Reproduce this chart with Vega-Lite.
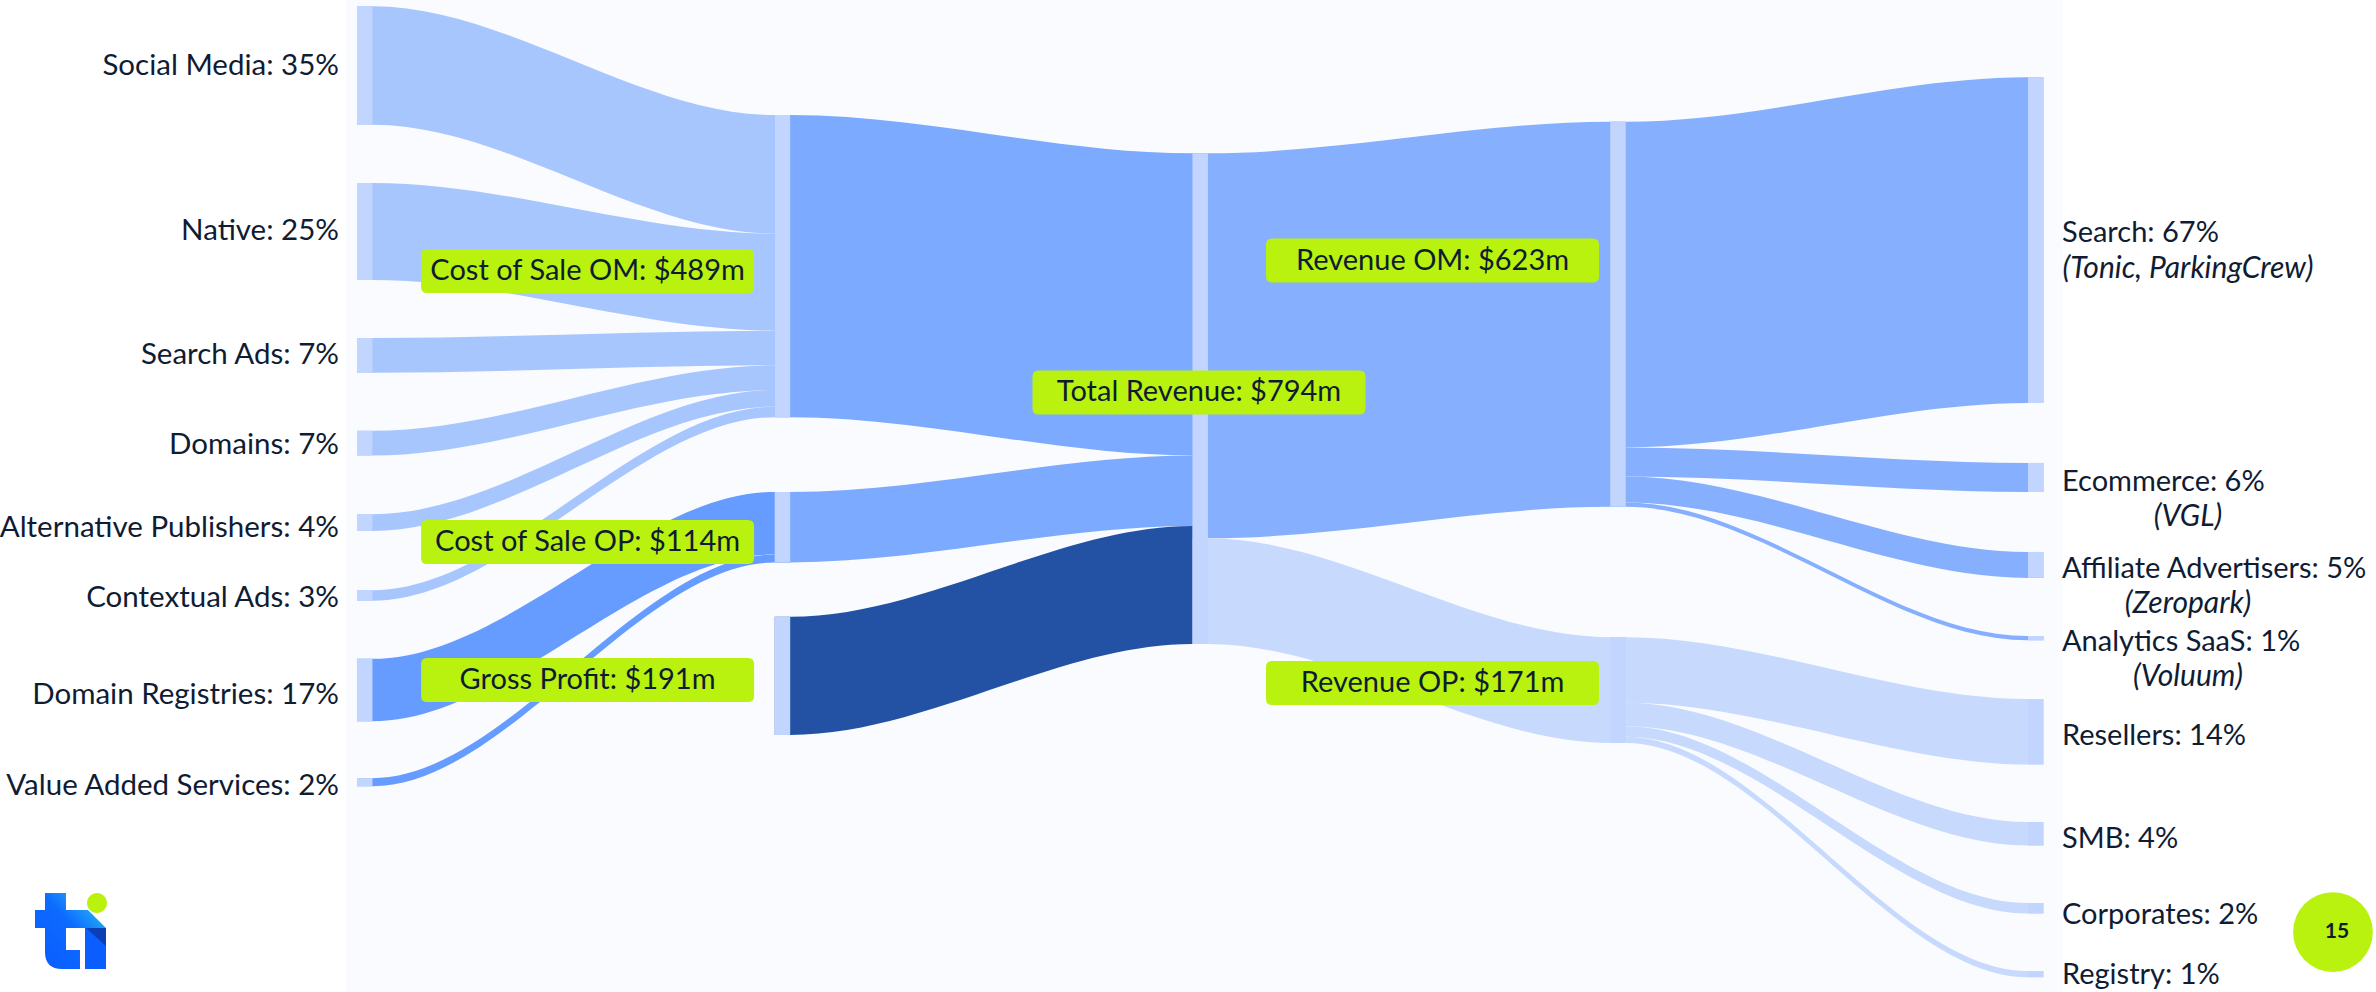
{
  "$schema": "https://vega.github.io/schema/vega-lite/v6.json",
  "width": 1717,
  "height": 992,
  "autosize": {"type": "none"},
  "padding": {"left": 346, "right": 313, "top": 0, "bottom": 0},
  "background": "#ffffff",
  "config": {"view": {"stroke": null, "fill": "#f9fbfe"}},
  "datasets": {
    "links": [
      {"link": "Social Media", "flow": "om_src", "x": 0, "top": 10, "bottom": 202},
      {"link": "Social Media", "flow": "om_src", "x": 0.037, "top": 10, "bottom": 202},
      {"link": "Social Media", "flow": "om_src", "x": 1, "top": 186, "bottom": 378},
      {"link": "Social Media", "flow": "om_src", "x": 1.037, "top": 186, "bottom": 378},
      {"link": "Native", "flow": "om_src", "x": 0, "top": 296, "bottom": 453},
      {"link": "Native", "flow": "om_src", "x": 0.037, "top": 296, "bottom": 453},
      {"link": "Native", "flow": "om_src", "x": 1, "top": 378, "bottom": 535},
      {"link": "Native", "flow": "om_src", "x": 1.037, "top": 378, "bottom": 535},
      {"link": "Search Ads", "flow": "om_src", "x": 0, "top": 547, "bottom": 603},
      {"link": "Search Ads", "flow": "om_src", "x": 0.037, "top": 547, "bottom": 603},
      {"link": "Search Ads", "flow": "om_src", "x": 1, "top": 535, "bottom": 591},
      {"link": "Search Ads", "flow": "om_src", "x": 1.037, "top": 535, "bottom": 591},
      {"link": "Domains", "flow": "om_src", "x": 0, "top": 697, "bottom": 737},
      {"link": "Domains", "flow": "om_src", "x": 0.037, "top": 697, "bottom": 737},
      {"link": "Domains", "flow": "om_src", "x": 1, "top": 591, "bottom": 631},
      {"link": "Domains", "flow": "om_src", "x": 1.037, "top": 591, "bottom": 631},
      {"link": "Alternative Publishers", "flow": "om_src", "x": 0, "top": 832, "bottom": 859},
      {"link": "Alternative Publishers", "flow": "om_src", "x": 0.037, "top": 832, "bottom": 859},
      {"link": "Alternative Publishers", "flow": "om_src", "x": 1, "top": 631, "bottom": 658},
      {"link": "Alternative Publishers", "flow": "om_src", "x": 1.037, "top": 631, "bottom": 658},
      {"link": "Contextual Ads", "flow": "om_src", "x": 0, "top": 955, "bottom": 972},
      {"link": "Contextual Ads", "flow": "om_src", "x": 0.037, "top": 955, "bottom": 972},
      {"link": "Contextual Ads", "flow": "om_src", "x": 1, "top": 658, "bottom": 675},
      {"link": "Contextual Ads", "flow": "om_src", "x": 1.037, "top": 658, "bottom": 675},
      {"link": "Domain Registries", "flow": "op_src", "x": 0, "top": 1066, "bottom": 1167},
      {"link": "Domain Registries", "flow": "op_src", "x": 0.037, "top": 1066, "bottom": 1167},
      {"link": "Domain Registries", "flow": "op_src", "x": 1, "top": 796, "bottom": 897},
      {"link": "Domain Registries", "flow": "op_src", "x": 1.037, "top": 796, "bottom": 897},
      {"link": "Value Added Services", "flow": "op_src", "x": 0, "top": 1259, "bottom": 1272},
      {"link": "Value Added Services", "flow": "op_src", "x": 0.037, "top": 1259, "bottom": 1272},
      {"link": "Value Added Services", "flow": "op_src", "x": 1, "top": 897, "bottom": 910},
      {"link": "Value Added Services", "flow": "op_src", "x": 1.037, "top": 897, "bottom": 910},
      {"link": "Cost of Sale OM", "flow": "cos", "x": 1, "top": 186, "bottom": 675},
      {"link": "Cost of Sale OM", "flow": "cos", "x": 1.037, "top": 186, "bottom": 675},
      {"link": "Cost of Sale OM", "flow": "cos", "x": 2, "top": 248, "bottom": 737},
      {"link": "Cost of Sale OM", "flow": "cos", "x": 2.037, "top": 248, "bottom": 737},
      {"link": "Cost of Sale OP", "flow": "cos", "x": 1, "top": 796, "bottom": 910},
      {"link": "Cost of Sale OP", "flow": "cos", "x": 1.037, "top": 796, "bottom": 910},
      {"link": "Cost of Sale OP", "flow": "cos", "x": 2, "top": 737, "bottom": 851},
      {"link": "Cost of Sale OP", "flow": "cos", "x": 2.037, "top": 737, "bottom": 851},
      {"link": "Gross Profit", "flow": "gp", "x": 1, "top": 998, "bottom": 1189},
      {"link": "Gross Profit", "flow": "gp", "x": 1.037, "top": 998, "bottom": 1189},
      {"link": "Gross Profit", "flow": "gp", "x": 2, "top": 851, "bottom": 1042},
      {"link": "Gross Profit", "flow": "gp", "x": 2.037, "top": 851, "bottom": 1042},
      {"link": "Revenue OM", "flow": "rev_om", "x": 2, "top": 248, "bottom": 871},
      {"link": "Revenue OM", "flow": "rev_om", "x": 2.037, "top": 248, "bottom": 871},
      {"link": "Revenue OM", "flow": "rev_om", "x": 3, "top": 197, "bottom": 820},
      {"link": "Revenue OM", "flow": "rev_om", "x": 3.037, "top": 197, "bottom": 820},
      {"link": "Revenue OP", "flow": "rev_op", "x": 2, "top": 871, "bottom": 1042},
      {"link": "Revenue OP", "flow": "rev_op", "x": 2.037, "top": 871, "bottom": 1042},
      {"link": "Revenue OP", "flow": "rev_op", "x": 3, "top": 1031, "bottom": 1202},
      {"link": "Revenue OP", "flow": "rev_op", "x": 3.037, "top": 1031, "bottom": 1202},
      {"link": "Search", "flow": "rev_om", "x": 3, "top": 197, "bottom": 724},
      {"link": "Search", "flow": "rev_om", "x": 3.037, "top": 197, "bottom": 724},
      {"link": "Search", "flow": "rev_om", "x": 4, "top": 125, "bottom": 652},
      {"link": "Search", "flow": "rev_om", "x": 4.037, "top": 125, "bottom": 652},
      {"link": "Ecommerce", "flow": "rev_om", "x": 3, "top": 724, "bottom": 771},
      {"link": "Ecommerce", "flow": "rev_om", "x": 3.037, "top": 724, "bottom": 771},
      {"link": "Ecommerce", "flow": "rev_om", "x": 4, "top": 749, "bottom": 796},
      {"link": "Ecommerce", "flow": "rev_om", "x": 4.037, "top": 749, "bottom": 796},
      {"link": "Affiliate Advertisers", "flow": "rev_om", "x": 3, "top": 771, "bottom": 813},
      {"link": "Affiliate Advertisers", "flow": "rev_om", "x": 3.037, "top": 771, "bottom": 813},
      {"link": "Affiliate Advertisers", "flow": "rev_om", "x": 4, "top": 893, "bottom": 935},
      {"link": "Affiliate Advertisers", "flow": "rev_om", "x": 4.037, "top": 893, "bottom": 935},
      {"link": "Analytics SaaS", "flow": "rev_om", "x": 3, "top": 813, "bottom": 820},
      {"link": "Analytics SaaS", "flow": "rev_om", "x": 3.037, "top": 813, "bottom": 820},
      {"link": "Analytics SaaS", "flow": "rev_om", "x": 4, "top": 1029, "bottom": 1036},
      {"link": "Analytics SaaS", "flow": "rev_om", "x": 4.037, "top": 1029, "bottom": 1036},
      {"link": "Resellers", "flow": "rev_op", "x": 3, "top": 1031, "bottom": 1137},
      {"link": "Resellers", "flow": "rev_op", "x": 3.037, "top": 1031, "bottom": 1137},
      {"link": "Resellers", "flow": "rev_op", "x": 4, "top": 1131, "bottom": 1237},
      {"link": "Resellers", "flow": "rev_op", "x": 4.037, "top": 1131, "bottom": 1237},
      {"link": "SMB", "flow": "rev_op", "x": 3, "top": 1137, "bottom": 1175},
      {"link": "SMB", "flow": "rev_op", "x": 3.037, "top": 1137, "bottom": 1175},
      {"link": "SMB", "flow": "rev_op", "x": 4, "top": 1330, "bottom": 1368},
      {"link": "SMB", "flow": "rev_op", "x": 4.037, "top": 1330, "bottom": 1368},
      {"link": "Corporates", "flow": "rev_op", "x": 3, "top": 1175, "bottom": 1192},
      {"link": "Corporates", "flow": "rev_op", "x": 3.037, "top": 1175, "bottom": 1192},
      {"link": "Corporates", "flow": "rev_op", "x": 4, "top": 1461, "bottom": 1478},
      {"link": "Corporates", "flow": "rev_op", "x": 4.037, "top": 1461, "bottom": 1478},
      {"link": "Registry", "flow": "rev_op", "x": 3, "top": 1192, "bottom": 1202},
      {"link": "Registry", "flow": "rev_op", "x": 3.037, "top": 1192, "bottom": 1202},
      {"link": "Registry", "flow": "rev_op", "x": 4, "top": 1571, "bottom": 1581},
      {"link": "Registry", "flow": "rev_op", "x": 4.037, "top": 1571, "bottom": 1581}
    ],
    "nodes": [
      {"node": "Social Media", "x": 0, "x2": 0.037, "top": 10, "bottom": 202},
      {"node": "Native", "x": 0, "x2": 0.037, "top": 296, "bottom": 453},
      {"node": "Search Ads", "x": 0, "x2": 0.037, "top": 547, "bottom": 603},
      {"node": "Domains", "x": 0, "x2": 0.037, "top": 697, "bottom": 737},
      {"node": "Alternative Publishers", "x": 0, "x2": 0.037, "top": 832, "bottom": 859},
      {"node": "Contextual Ads", "x": 0, "x2": 0.037, "top": 955, "bottom": 972},
      {"node": "Domain Registries", "x": 0, "x2": 0.037, "top": 1066, "bottom": 1167},
      {"node": "Value Added Services", "x": 0, "x2": 0.037, "top": 1259, "bottom": 1272},
      {"node": "Cost of Sale OM", "x": 1, "x2": 1.037, "top": 186, "bottom": 675},
      {"node": "Cost of Sale OP", "x": 1, "x2": 1.037, "top": 796, "bottom": 910},
      {"node": "Gross Profit", "x": 1, "x2": 1.037, "top": 998, "bottom": 1189},
      {"node": "Total Revenue", "x": 2, "x2": 2.037, "top": 248, "bottom": 1042},
      {"node": "Revenue OM", "x": 3, "x2": 3.037, "top": 197, "bottom": 820},
      {"node": "Revenue OP", "x": 3, "x2": 3.037, "top": 1031, "bottom": 1202},
      {"node": "Search", "x": 4, "x2": 4.037, "top": 125, "bottom": 652},
      {"node": "Ecommerce", "x": 4, "x2": 4.037, "top": 749, "bottom": 796},
      {"node": "Affiliate Advertisers", "x": 4, "x2": 4.037, "top": 893, "bottom": 935},
      {"node": "Analytics SaaS", "x": 4, "x2": 4.037, "top": 1029, "bottom": 1036},
      {"node": "Resellers", "x": 4, "x2": 4.037, "top": 1131, "bottom": 1237},
      {"node": "SMB", "x": 4, "x2": 4.037, "top": 1330, "bottom": 1368},
      {"node": "Corporates", "x": 4, "x2": 4.037, "top": 1461, "bottom": 1478},
      {"node": "Registry", "x": 4, "x2": 4.037, "top": 1571, "bottom": 1581}
    ],
    "badges": [
      {"label": "Cost of Sale OM: $489m", "x": 0.552, "y": 438.5},
      {"label": "Cost of Sale OP: $114m", "x": 0.552, "y": 877},
      {"label": "Gross Profit: $191m", "x": 0.552, "y": 1100},
      {"label": "Total Revenue: $794m", "x": 2.0156, "y": 635},
      {"label": "Revenue OM: $623m", "x": 2.5746, "y": 421.5},
      {"label": "Revenue OP: $171m", "x": 2.5746, "y": 1105}
    ],
    "labels": [
      {"side": "left", "label": "Social Media: 35%", "x": 0, "y": 106.8},
      {"side": "left", "label": "Native: 25%", "x": 0, "y": 373.7},
      {"side": "left", "label": "Search Ads: 7%", "x": 0, "y": 574.4},
      {"side": "left", "label": "Domains: 7%", "x": 0, "y": 720},
      {"side": "left", "label": "Alternative Publishers: 4%", "x": 0, "y": 854.3},
      {"side": "left", "label": "Contextual Ads: 3%", "x": 0, "y": 967.5},
      {"side": "left", "label": "Domain Registries: 17%", "x": 0, "y": 1124.5},
      {"side": "left", "label": "Value Added Services: 2%", "x": 0, "y": 1270.9},
      {"side": "right", "label": "Search: 67%", "x": 4, "y": 377},
      {"side": "right", "label": "Ecommerce: 6%", "x": 4, "y": 780},
      {"side": "right", "label": "Affiliate Advertisers: 5%", "x": 4, "y": 920},
      {"side": "right", "label": "Analytics SaaS: 1%", "x": 4, "y": 1039},
      {"side": "right", "label": "Resellers: 14%", "x": 4, "y": 1190},
      {"side": "right", "label": "SMB: 4%", "x": 4, "y": 1357.5},
      {"side": "right", "label": "Corporates: 2%", "x": 4, "y": 1480.4},
      {"side": "right", "label": "Registry: 1%", "x": 4, "y": 1577.5},
      {"side": "sub", "label": "(Tonic, ParkingCrew)", "x": 4, "y": 436},
      {"side": "sub", "label": "(VGL)", "x": 4, "y": 837},
      {"side": "sub", "label": "(Zeropark)", "x": 4, "y": 977},
      {"side": "sub", "label": "(Voluum)", "x": 4, "y": 1095}
    ],
    "decor": [
      {"item": "logo", "x": -0.687, "y": 1504.7},
      {"item": "page", "x": 4.73, "y": 1508, "label": "15"}
    ]
  },
  "layer": [
    {
      "data": {"name": "links"},
      "mark": {"type": "area", "interpolate": "monotone", "orient": "vertical"},
      "encoding": {
        "x": {"field": "x", "type": "quantitative", "scale": {"domain": [-0.0263, 4.0838], "nice": false, "zero": false}, "axis": null},
        "y": {"field": "top", "type": "quantitative", "scale": {"domain": [0, 1605], "nice": false, "zero": false, "reverse": true}, "axis": null},
        "y2": {"field": "bottom"},
        "detail": {"field": "link"},
        "color": {
          "field": "flow", "type": "nominal", "legend": null,
          "scale": {"domain": ["om_src", "op_src", "cos", "gp", "rev_om", "rev_op"], "range": ["#a8c6fe", "#669cff", "#7caafe", "#2352a5", "#86affd", "#c7dafd"]}
        }
      }
    },
    {
      "data": {"name": "nodes"},
      "mark": {"type": "rect", "color": "#c2d5fe"},
      "encoding": {
        "x": {"field": "x", "type": "quantitative", "scale": {"domain": [-0.0263, 4.0838], "nice": false, "zero": false}, "axis": null},
        "x2": {"field": "x2"},
        "y": {"field": "top", "type": "quantitative", "scale": {"domain": [0, 1605], "nice": false, "zero": false, "reverse": true}, "axis": null},
        "y2": {"field": "bottom"}
      }
    },
    {
      "data": {"name": "badges"},
      "mark": {"type": "point", "filled": true, "opacity": 1, "size": 4, "color": "#b8f20e", "strokeWidth": 0,
        "shape": "M-160.5,-22 L160.5,-22 Q166.5,-22 166.5,-16 L166.5,16 Q166.5,22 160.5,22 L-160.5,22 Q-166.5,22 -166.5,16 L-166.5,-16 Q-166.5,-22 -160.5,-22 Z"},
      "encoding": {
        "x": {"field": "x", "type": "quantitative", "scale": {"domain": [-0.0263, 4.0838], "nice": false, "zero": false}, "axis": null},
        "y": {"field": "y", "type": "quantitative", "scale": {"domain": [0, 1605], "nice": false, "zero": false, "reverse": true}, "axis": null}
      }
    },
    {
      "data": {"name": "badges"},
      "mark": {"type": "text", "font": "Lato", "fontSize": 29, "color": "#0f1c33", "align": "center", "baseline": "middle"},
      "encoding": {
        "x": {"field": "x", "type": "quantitative", "scale": {"domain": [-0.0263, 4.0838], "nice": false, "zero": false}, "axis": null},
        "y": {"field": "y", "type": "quantitative", "scale": {"domain": [0, 1605], "nice": false, "zero": false, "reverse": true}, "axis": null},
        "text": {"field": "label"}
      }
    },
    {
      "data": {"name": "labels"},
      "transform": [{"filter": "datum.side === 'left'"}],
      "mark": {"type": "text", "font": "Lato", "fontSize": 29.5, "color": "#0f1c33", "align": "right", "baseline": "middle", "dx": -18},
      "encoding": {
        "x": {"field": "x", "type": "quantitative", "scale": {"domain": [-0.0263, 4.0838], "nice": false, "zero": false}, "axis": null},
        "y": {"field": "y", "type": "quantitative", "scale": {"domain": [0, 1605], "nice": false, "zero": false, "reverse": true}, "axis": null},
        "text": {"field": "label"}
      }
    },
    {
      "data": {"name": "labels"},
      "transform": [{"filter": "datum.side === 'right'"}],
      "mark": {"type": "text", "font": "Lato", "fontSize": 29, "color": "#0f1c33", "align": "left", "baseline": "middle", "dx": 34},
      "encoding": {
        "x": {"field": "x", "type": "quantitative", "scale": {"domain": [-0.0263, 4.0838], "nice": false, "zero": false}, "axis": null},
        "y": {"field": "y", "type": "quantitative", "scale": {"domain": [0, 1605], "nice": false, "zero": false, "reverse": true}, "axis": null},
        "text": {"field": "label"}
      }
    },
    {
      "data": {"name": "labels"},
      "transform": [{"filter": "datum.side === 'sub'"}],
      "mark": {"type": "text", "font": "Lato", "fontSize": 30, "fontStyle": "italic", "color": "#0f1c33", "align": "center", "baseline": "middle", "dx": 160},
      "encoding": {
        "x": {"field": "x", "type": "quantitative", "scale": {"domain": [-0.0263, 4.0838], "nice": false, "zero": false}, "axis": null},
        "y": {"field": "y", "type": "quantitative", "scale": {"domain": [0, 1605], "nice": false, "zero": false, "reverse": true}, "axis": null},
        "text": {"field": "label"}
      }
    },
    {
      "data": {"name": "decor"},
      "transform": [{"filter": "datum.item === 'logo'"}],
      "mark": {"type": "point", "filled": true, "opacity": 1, "size": 4, "strokeWidth": 0,
        "color": {"gradient": "linear", "x1": 0, "y1": 1, "x2": 1, "y2": 0, "stops": [{"offset": 0, "color": "#0a5aff"}, {"offset": 0.55, "color": "#0d6bff"}, {"offset": 1, "color": "#2fd3f0"}]},
        "shape": "M-25,-37 L-4,-37 L-4,-20 L18,-20 L36,-2 L-4,-2 L-4,20 L10,20 L10,39 L-8,39 Q-25,39 -25,22 L-25,-2 L-35,-2 L-35,-20 L-25,-20 Z"},
      "encoding": {
        "x": {"field": "x", "type": "quantitative", "scale": {"domain": [-0.0263, 4.0838], "nice": false, "zero": false}, "axis": null},
        "y": {"field": "y", "type": "quantitative", "scale": {"domain": [0, 1605], "nice": false, "zero": false, "reverse": true}, "axis": null}
      }
    },
    {
      "data": {"name": "decor"},
      "transform": [{"filter": "datum.item === 'logo'"}],
      "mark": {"type": "point", "filled": true, "opacity": 1, "size": 4, "strokeWidth": 0, "color": "#0a5eff",
        "shape": "M15,-2 L36,-2 L36,39 L15,39 Z"},
      "encoding": {
        "x": {"field": "x", "type": "quantitative", "scale": {"domain": [-0.0263, 4.0838], "nice": false, "zero": false}, "axis": null},
        "y": {"field": "y", "type": "quantitative", "scale": {"domain": [0, 1605], "nice": false, "zero": false, "reverse": true}, "axis": null}
      }
    },
    {
      "data": {"name": "decor"},
      "transform": [{"filter": "datum.item === 'logo'"}],
      "mark": {"type": "point", "filled": true, "opacity": 1, "size": 4, "strokeWidth": 0, "color": "#0b3fb5",
        "shape": "M16,-2 L36,-2 L36,16 Z"},
      "encoding": {
        "x": {"field": "x", "type": "quantitative", "scale": {"domain": [-0.0263, 4.0838], "nice": false, "zero": false}, "axis": null},
        "y": {"field": "y", "type": "quantitative", "scale": {"domain": [0, 1605], "nice": false, "zero": false, "reverse": true}, "axis": null}
      }
    },
    {
      "data": {"name": "decor"},
      "transform": [{"filter": "datum.item === 'logo'"}],
      "mark": {"type": "point", "filled": true, "opacity": 1, "size": 4, "strokeWidth": 0, "color": "#b8f20e",
        "shape": "M37,-27 A10,10 0 1,1 17,-27 A10,10 0 1,1 37,-27 Z"},
      "encoding": {
        "x": {"field": "x", "type": "quantitative", "scale": {"domain": [-0.0263, 4.0838], "nice": false, "zero": false}, "axis": null},
        "y": {"field": "y", "type": "quantitative", "scale": {"domain": [0, 1605], "nice": false, "zero": false, "reverse": true}, "axis": null}
      }
    },
    {
      "data": {"name": "decor"},
      "transform": [{"filter": "datum.item === 'page'"}],
      "mark": {"type": "point", "shape": "circle", "filled": true, "opacity": 1, "size": 6362, "strokeWidth": 0, "color": "#b8f20e"},
      "encoding": {
        "x": {"field": "x", "type": "quantitative", "scale": {"domain": [-0.0263, 4.0838], "nice": false, "zero": false}, "axis": null},
        "y": {"field": "y", "type": "quantitative", "scale": {"domain": [0, 1605], "nice": false, "zero": false, "reverse": true}, "axis": null}
      }
    },
    {
      "data": {"name": "decor"},
      "transform": [{"filter": "datum.item === 'page'"}],
      "mark": {"type": "text", "font": "Lato", "fontSize": 21, "fontWeight": "bold", "color": "#0f1c33", "align": "center", "baseline": "middle", "dx": 4},
      "encoding": {
        "x": {"field": "x", "type": "quantitative", "scale": {"domain": [-0.0263, 4.0838], "nice": false, "zero": false}, "axis": null},
        "y": {"field": "y", "type": "quantitative", "scale": {"domain": [0, 1605], "nice": false, "zero": false, "reverse": true}, "axis": null},
        "text": {"field": "label"}
      }
    }
  ]
}
